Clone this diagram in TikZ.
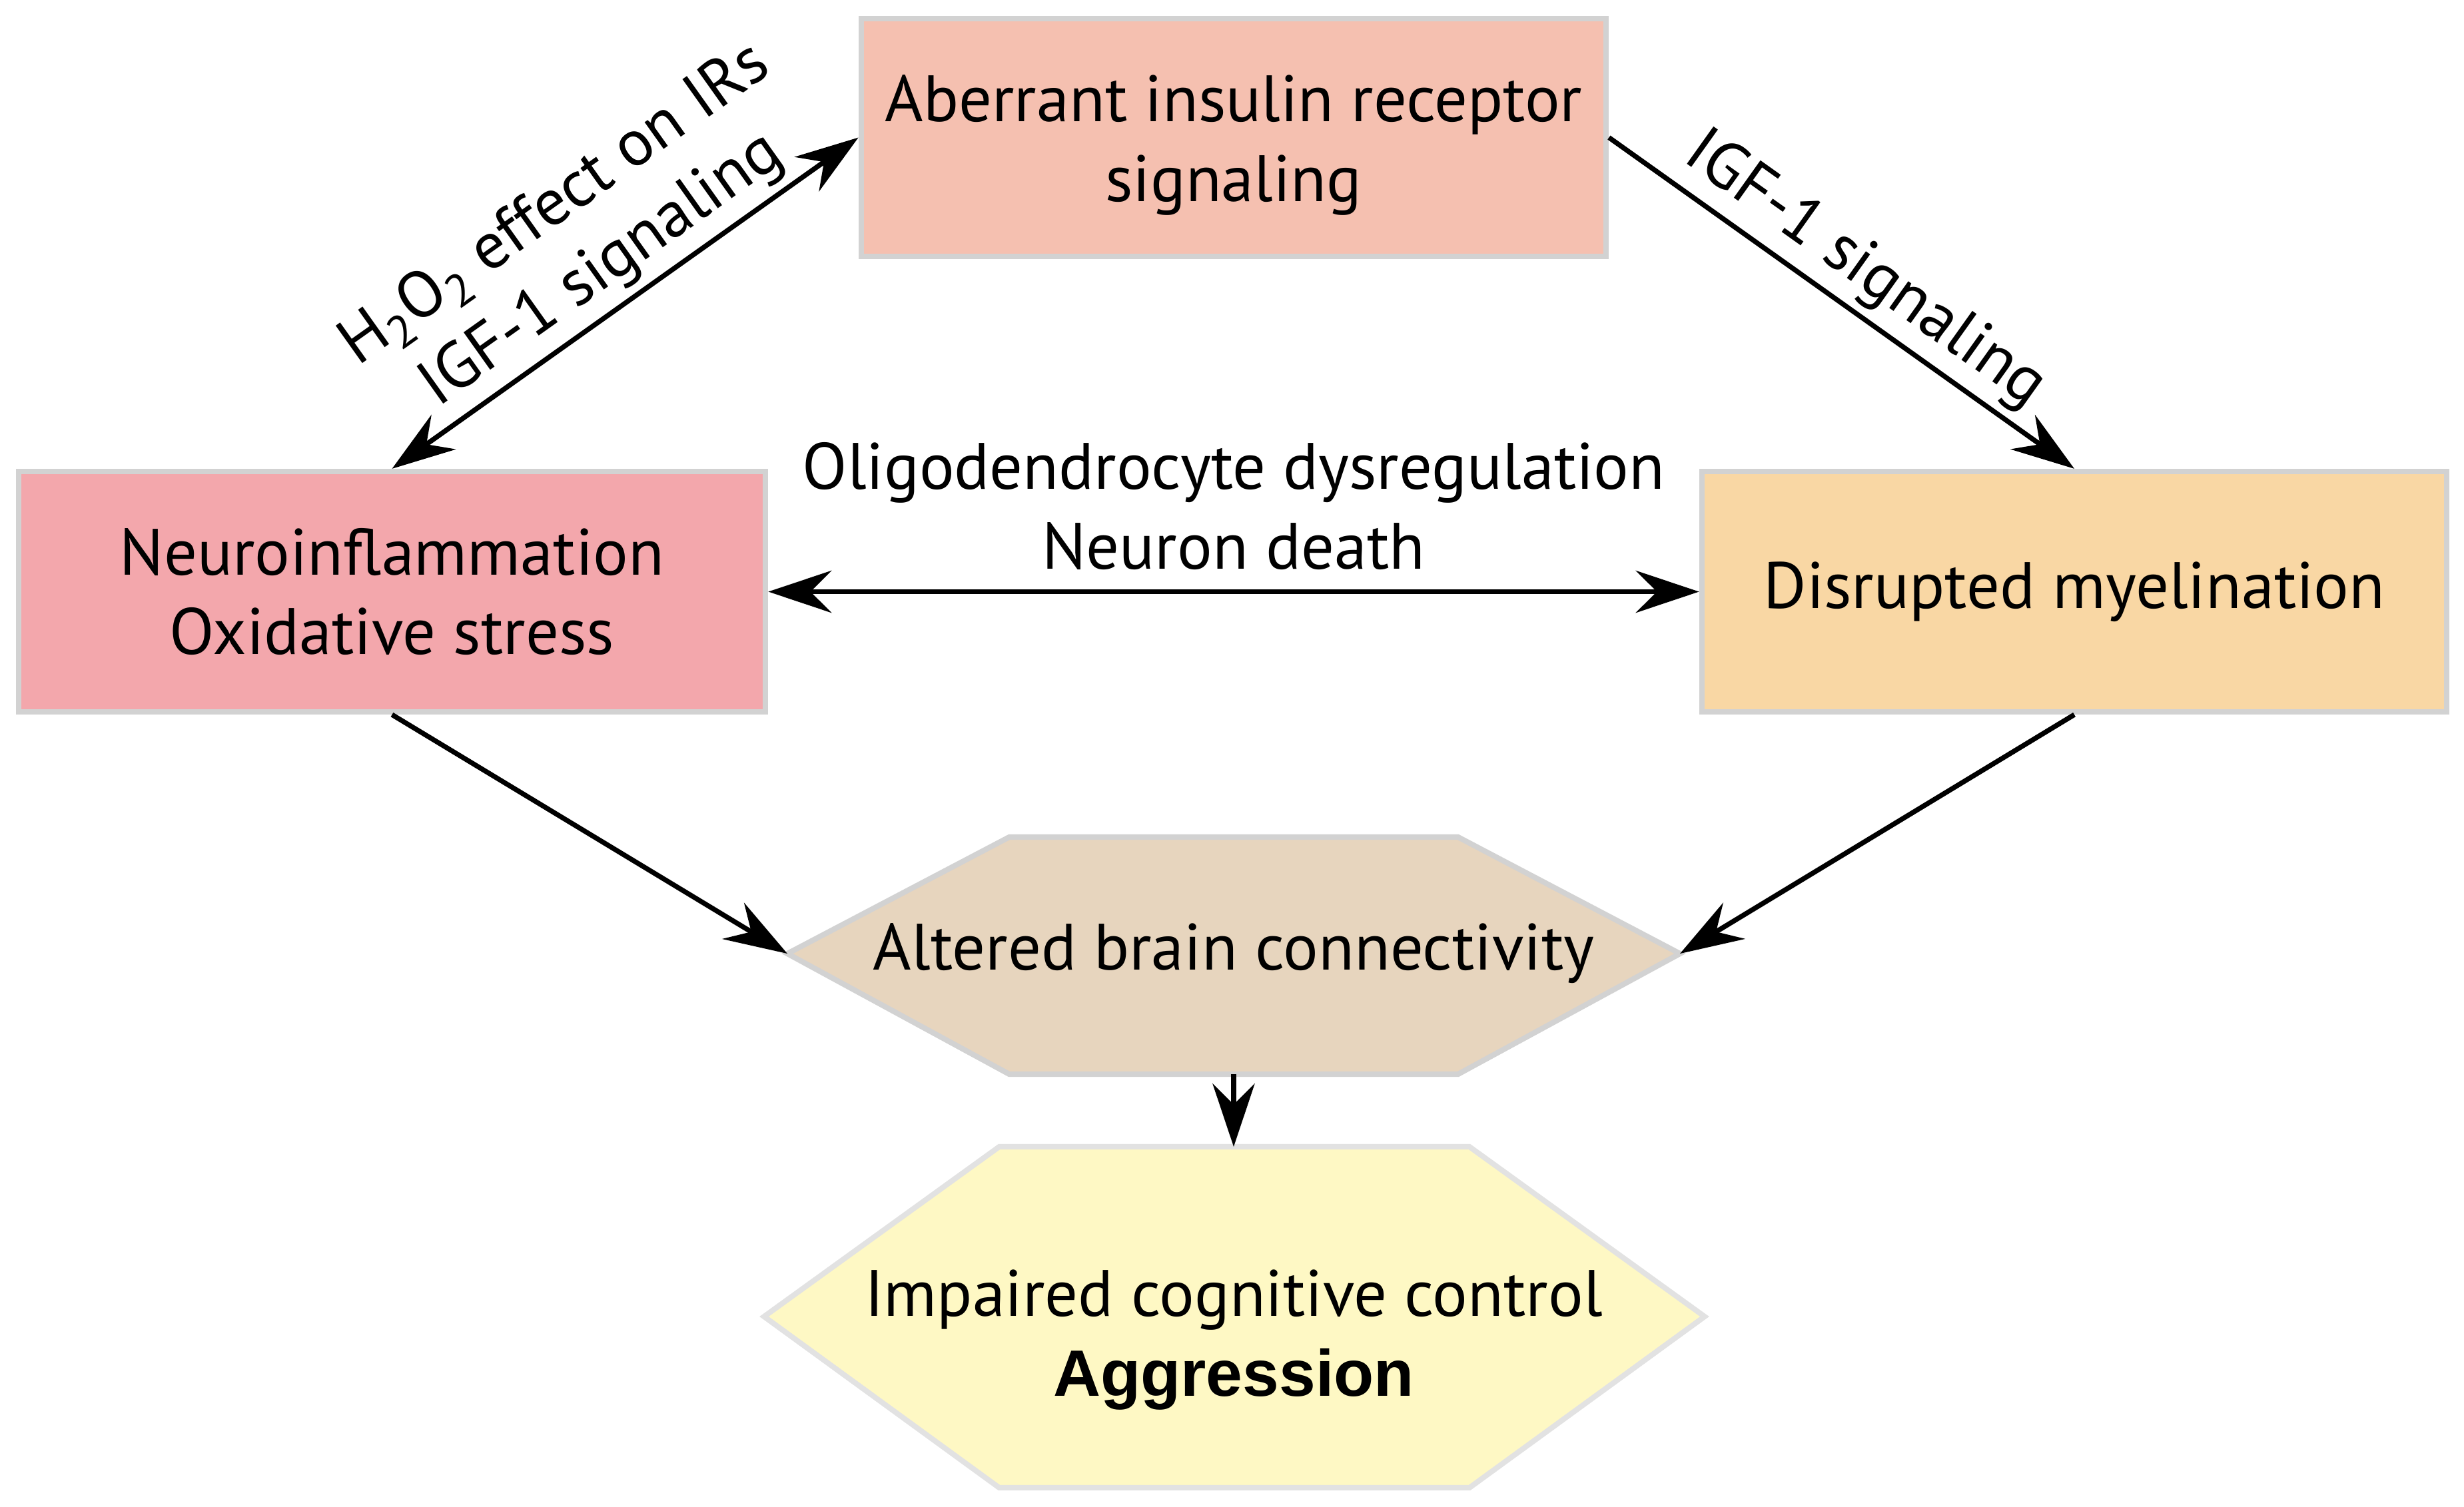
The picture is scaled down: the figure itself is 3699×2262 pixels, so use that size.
\documentclass[tikz,border=0pt]{standalone}
\usepackage{fontspec}
\setmainfont{PT Sans}
\newfontfamily\aggfont{Liberation Sans}
\usetikzlibrary{arrows.meta}
\definecolor{cAber}{HTML}{F5C0B0}
\definecolor{cNeuro}{HTML}{F3A7AC}
\definecolor{cMyel}{HTML}{F9D7A4}
\definecolor{cAlt}{HTML}{E7D5BE}
\definecolor{cImp}{HTML}{FEF8C4}
\definecolor{cBorder}{HTML}{D2D2D2}
\definecolor{cBorderL}{HTML}{E2E2E2}
\begin{document}
\begin{tikzpicture}[x=0.01cm,y=-0.01cm,
  every node/.style={font=\fontsize{28}{34}\selectfont, text=black},
  boxnode/.style={draw=cBorder, line width=2.3pt, inner sep=0pt, align=center},
  hexpath/.style={draw=cBorder, line width=2.3pt, line join=miter},
  tip/.tip={Stealth[length=27pt,width=18pt,inset=9pt]},
  conn/.style={line width=2.1pt, -tip},
  bconn/.style={line width=2.1pt, tip-tip},
  lbl/.style={align=center, inner sep=3pt}
]
\useasboundingbox (0,0) rectangle (3699,2262);

% boxes
\node[boxnode, fill=cAber, minimum width=11.18cm, minimum height=3.57cm] (aber) at (1852,206.5) {};
\node[align=center] (aberT) at (1852,218) {Aberrant insulin receptor\\signaling};
\node[boxnode, fill=cNeuro, minimum width=11.21cm, minimum height=3.61cm] (neuro) at (588.5,888.5) {Neuroinflammation\\Oxidative stress};
\node[boxnode, fill=cMyel, minimum width=11.18cm, minimum height=3.61cm] (myel) at (3114,888.5) {Disrupted myelination};

% hexagons
\coordinate (alt-w) at (1182,1432);
\coordinate (alt-e) at (2522,1432);
\coordinate (alt-s) at (1852,1613);
\draw[hexpath, fill=cAlt] (alt-w) -- (1515,1257) -- (2189,1257) -- (alt-e) -- (2189,1613) -- (1515,1613) -- cycle;
\node (altered) at (1852,1432) {Altered brain connectivity};

\coordinate (imp-n) at (1852,1722);
\draw[hexpath, draw=cBorderL, fill=cImp] (1147,1977) -- (1500,1722) -- (2206,1722) -- (2559,1977) -- (2206,2234) -- (1500,2234) -- cycle;
\node[align=center] (impaired) at (1852,2012) {Impaired cognitive control\\{\aggfont\bfseries Aggression}};

% connectors
\draw[bconn] (neuro.north) -- node[midway, sloped, above, lbl] (lblA) {H\textsubscript{2}O\textsubscript{2} effect on IRs\\IGF-1 signaling} (aber.west);
\draw[conn] (aber.east) -- node[midway, sloped, above, lbl] (lblB) {IGF-1 signaling} (myel.north);
\draw[bconn] (neuro.east) -- (myel.west);
\node[align=center] (lblC) at (1852,760) {Oligodendrocyte dysregulation\\Neuron death};
\draw[conn] (neuro.south) -- (alt-w);
\draw[conn] (myel.south) -- (alt-e);
\draw[conn] (alt-s) -- (imp-n);
\end{tikzpicture}
\end{document}
